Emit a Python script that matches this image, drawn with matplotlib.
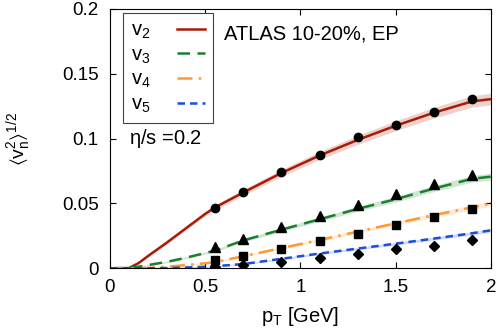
import numpy as np
import matplotlib
matplotlib.use("Agg")
import matplotlib.pyplot as plt

plt.rcParams['font.family'] = ['Liberation Sans', 'DejaVu Sans']
plt.rcParams['mathtext.fontset'] = 'custom'
plt.rcParams['mathtext.rm'] = 'Liberation Sans'
plt.rcParams['mathtext.it'] = 'Liberation Sans'
plt.rcParams['mathtext.default'] = 'regular'

# ATLAS data points
pt_data = [0.55, 0.7, 0.9, 1.1, 1.3, 1.5, 1.7, 1.9]
v2_data = [0.0468, 0.0587, 0.0741, 0.0877, 0.1009, 0.1109, 0.1209, 0.1302]
v3_data = [0.0167, 0.0229, 0.0317, 0.0404, 0.0489, 0.0571, 0.0649, 0.0720]
v4_data = [0.0062, 0.0095, 0.0149, 0.0208, 0.0267, 0.0332, 0.0394, 0.0456]
v5_data = [0.0013, 0.0025, 0.0049, 0.0077, 0.0110, 0.0147, 0.0172, 0.0219]

# hydro curves
pt_th = [0.0, 0.1, 0.15, 0.2, 0.3, 0.4, 0.5, 0.55, 0.7, 0.9, 1.1, 1.3, 1.5, 1.7, 1.9, 2.0]
v2_th = [0.0, 0.0002, 0.004, 0.0095, 0.020, 0.031, 0.042, 0.0468, 0.0585, 0.0735, 0.087, 0.099, 0.110, 0.120, 0.1287, 0.1305]
v3_th = [0.0, 0.0003, 0.0012, 0.0025, 0.005, 0.0082, 0.0118, 0.0136, 0.0215, 0.0298, 0.0378, 0.0458, 0.0533, 0.0615, 0.069, 0.0707]
v4_th = [0.0, 0.0, 0.0, 0.0003, 0.0012, 0.0025, 0.0039, 0.0047, 0.0093, 0.0156, 0.0218, 0.0283, 0.0347, 0.041, 0.047, 0.050]
v5_th = [0.0, 0.0, 0.0, 0.0, 0.0002, 0.0006, 0.0012, 0.0016, 0.0033, 0.0073, 0.0114, 0.0152, 0.0190, 0.0229, 0.027, 0.0293]

colors = ['#a81c07', '#1a7f2e', '#ff9933', '#1a4fd6']
styles = ['-', (0, (5, 3)), (0, (6, 2.5, 1, 2.5)), (0, (3, 2))]
labels = ['$v_2$', '$v_3$', '$v_4$', '$v_5$']
markers = ['o', '^', 's', 'D']
msizes = [6, 7, 6, 5.5]

fig = plt.figure(figsize=(4.99, 3.32), dpi=100)
ax = fig.add_axes([0.2204, 0.1919, 0.7636, 0.781])

pt = np.array(pt_th)
for th, c, ls, lab in zip([v2_th, v3_th, v4_th, v5_th], colors, styles, labels):
    th = np.array(th)
    ax.fill_between(pt, th * 0.97 - 0.0005, th * 1.03 + 0.0005, color=c, alpha=0.2, lw=0)
    ax.plot(pt, th, color=c, ls=ls, lw=1.8, label=lab)

for d, m, ms in zip([v2_data, v3_data, v4_data, v5_data], markers, msizes):
    ax.plot(pt_data, d, ls='none', marker=m, color='black', ms=ms)

ax.set_xlim(0, 2)
ax.set_ylim(0, 0.2)
ax.set_xticks([0, 0.5, 1, 1.5, 2])
ax.set_xticklabels(['0', '0.5', '1', '1.5', '2'])
ax.set_yticks([0, 0.05, 0.1, 0.15, 0.2])
ax.set_yticklabels(['0', '0.05', '0.1', '0.15', '0.2'])
ax.tick_params(direction='in', top=True, right=True, length=4, width=0.8, labelsize=13.5, pad=8)
ax.set_xlabel('$p_T$ [GeV]', fontsize=14.5, va='top')
ax.xaxis.set_label_coords(0.5, -0.14)
ax.set_ylabel(r'$\langle v_n^2\rangle^{1/2}$', fontsize=14, va='center')
ax.yaxis.set_label_coords(-0.24, 0.5)

ax.text(0.3, 0.905, 'ATLAS 10-20%, EP', transform=ax.transAxes, fontsize=14.5, va='center')
ax.text(0.05, 0.5, '$\\eta$/s =0.2', transform=ax.transAxes, fontsize=14.5, va='center')

leg = ax.legend(loc='upper left', bbox_to_anchor=(0.034, 0.986), borderaxespad=0,
                markerfirst=False, fancybox=False, framealpha=1, edgecolor='#444444',
                handlelength=1.4, handletextpad=1.3, labelspacing=0.22, borderpad=0.4,
                fontsize=14.5)
leg.get_frame().set_linewidth(0.8)

plt.savefig('out.png', dpi=100)
